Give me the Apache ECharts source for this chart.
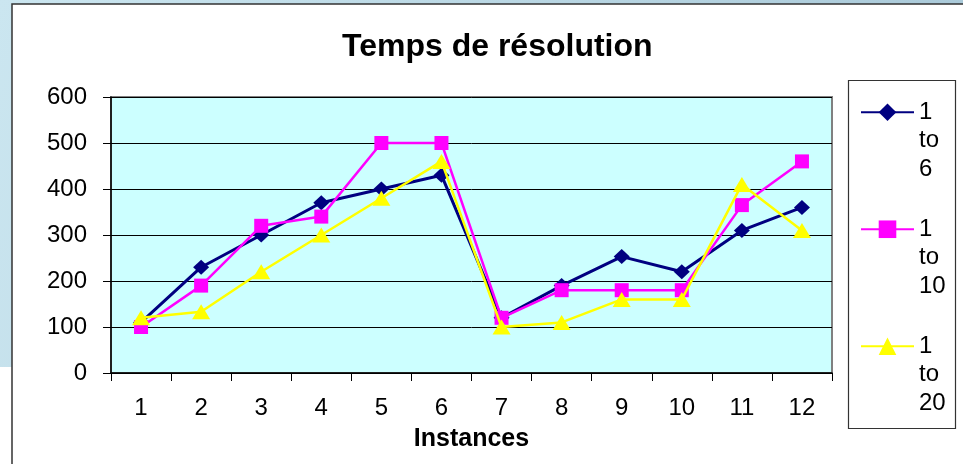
<!DOCTYPE html>
<html>
<head>
<meta charset="utf-8">
<script src="https://cdn.jsdelivr.net/npm/echarts@6/dist/echarts.min.js"></script>
<style>
html,body{margin:0;padding:0;background:#fff;}
#c{width:963px;height:464px;}
</style>
</head>
<body>
<div id="c"></div>
<script>
const categories = ['1','2','3','4','5','6','7','8','9','10','11','12'];
const seriesNames = ['1 to 6', '1 to 10', '1 to 20'];
const legendLabels = ['\n\n1\nto\n6', '\n\n1\nto\n10', '\n\n1\nto\n20'];
const s1to6  = [110, 230, 300, 370, 400, 430, 120, 190, 253, 220, 310, 360];
const s1to10 = [100, 190, 320, 340, 500, 500, 120, 180, 180, 180, 365, 460];
const s1to20 = [120, 133, 220, 300, 380, 460, 100, 110, 160, 160, 410, 310];
const yTicks = [0, 100, 200, 300, 400, 500, 600];

const FONT = '"Liberation Sans", Arial, sans-serif';
const chart = echarts.init(document.getElementById('c'), null, {renderer: 'canvas'});

const colors = ['#000080', '#ff00ff', '#ffff00'];
const symbols = ['diamond', 'rect', 'triangle'];
const symbolSizes = [[16, 15], 14, [18, 15]];
const lineWidths = [3, 2.5, 2.5];
const dataSets = [s1to6, s1to10, s1to20];
const legendTops = [41, 158, 275];

const option = {
  animation: false,
  backgroundColor: '#ffffff',
  graphic: [
    {type: 'rect', z: -10, shape: {x: 0, y: 0, width: 963, height: 367},
     style: {fill: new echarts.graphic.LinearGradient(0, 0, 1, 1, [
       {offset: 0, color: '#cbe6f0'}, {offset: 1, color: '#a6c6d6'}])}},
    {type: 'rect', z: -9, shape: {x: 12, y: 4, width: 960, height: 470},
     style: {fill: '#ffffff', stroke: '#333333', lineWidth: 1.5}},
    {type: 'rect', z: 5, shape: {x: 848.5, y: 80.5, width: 107, height: 348},
     style: {fill: 'none', stroke: '#333333', lineWidth: 1.2}}
  ],
  title: {
    text: 'Temps de résolution',
    left: 337, top: 26,
    textStyle: {fontFamily: FONT, fontSize: 32, fontWeight: 'bold', color: '#000'}
  },
  legend: seriesNames.map((n, i) => ({
    data: [n],
    orient: 'vertical',
    left: 860, top: legendTops[i],
    padding: 0,
    itemWidth: 53, itemHeight: 22,
    formatter: () => legendLabels[i],
    textStyle: {fontFamily: FONT, fontSize: 24, color: '#000', lineHeight: 28.5}
  })),
  grid: {
    left: 111, top: 97, right: 131, bottom: 91,
    show: true, backgroundColor: '#ccffff', borderColor: '#808080', borderWidth: 2
  },
  xAxis: {
    type: 'category', data: categories, boundaryGap: true,
    name: 'Instances', nameLocation: 'middle', nameGap: 54,
    nameTextStyle: {fontFamily: FONT, fontSize: 25, fontWeight: 'bold', color: '#000'},
    axisLine: {lineStyle: {color: '#000', width: 1.5}},
    axisTick: {show: true, inside: false, length: 8, lineStyle: {color: '#000', width: 1}},
    axisLabel: {fontFamily: FONT, fontSize: 24, color: '#000', margin: 23},
    splitLine: {show: false}
  },
  yAxis: {
    type: 'value', min: yTicks[0], max: yTicks[yTicks.length - 1], interval: 100,
    axisLine: {show: true, lineStyle: {color: '#000', width: 1.5}},
    axisTick: {show: true, inside: false, length: 8, lineStyle: {color: '#000', width: 1}},
    axisLabel: {fontFamily: FONT, fontSize: 24, color: '#000', margin: 24},
    splitLine: {show: true, lineStyle: {color: '#000', width: 1}}
  },
  series: seriesNames.map((n, i) => ({
    name: n, type: 'line', data: dataSets[i],
    symbol: symbols[i], symbolSize: symbolSizes[i], showAllSymbol: true,
    itemStyle: {color: colors[i]},
    lineStyle: {color: colors[i], width: lineWidths[i]},
    z: 2 + i
  }))
};
chart.setOption(option);
</script>
</body>
</html>
